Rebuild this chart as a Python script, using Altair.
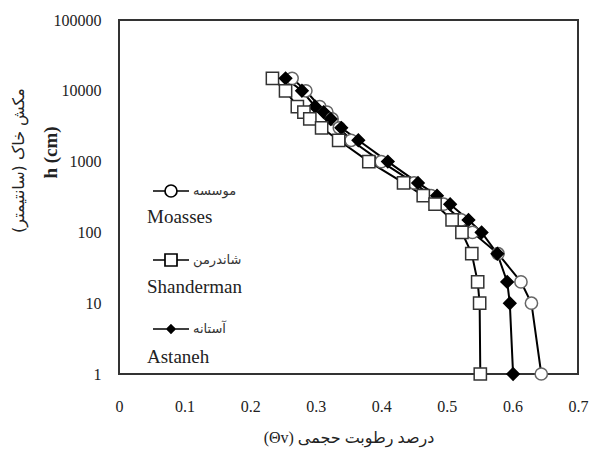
import altair as alt
import pandas as pd

# suction levels h (cm)
h_levels = [15000, 10000, 6000, 5000, 4000, 3000, 2000, 1000, 500, 330, 250, 150, 100, 50, 20, 10, 1]
# volumetric water content per site
moasses = [0.264, 0.285, 0.306, 0.317, 0.325, 0.336, 0.354, 0.400, 0.450, 0.476, 0.495, 0.522, 0.539, 0.578, 0.613, 0.629, 0.644]
shanderman = [0.234, 0.254, 0.272, 0.282, 0.291, 0.309, 0.335, 0.381, 0.434, 0.464, 0.482, 0.508, 0.523, 0.538, 0.547, 0.550, 0.551]
astaneh = [0.254, 0.279, 0.299, 0.312, 0.323, 0.339, 0.365, 0.410, 0.456, 0.485, 0.505, 0.533, 0.553, 0.577, 0.592, 0.596, 0.601]

series_en = ["Moasses", "Shanderman", "Astaneh"]
series_fa = ["موسسه", "شاندرمن", "آستانه"]
x_ticks = [0, 0.1, 0.2, 0.3, 0.4, 0.5, 0.6, 0.7]
y_ticks = [1, 10, 100, 1000, 10000, 100000]

rows = []
for en, fa, vals in zip(series_en, series_fa, [moasses, shanderman, astaneh]):
    for i, (h, t) in enumerate(zip(h_levels, vals)):
        rows.append({"series": en, "fa": fa, "theta": t, "h": h, "idx": i})
df = pd.DataFrame(rows)

SERIF = "Liberation Serif, DejaVu Sans"
FA = "DejaVu Sans"

x_axis = alt.Axis(values=x_ticks, labelExpr="datum.value == 0 ? '0' : format(datum.value, '.1f')",
                  title="(Θv) درصد رطوبت حجمی", titleFont=SERIF, titleFontSize=16, titleFontWeight="normal",
                  titlePadding=15, labelFont=SERIF, labelFontSize=16, labelPadding=24, labelFlush=False,
                  ticks=False, domain=False, grid=False, labelColor="#222", titleColor="#222")
x_enc = alt.X("theta:Q", scale=alt.Scale(domain=[0, 0.7], nice=False, zero=False), axis=x_axis)

y_scale = alt.Scale(type="log", domain=[1, 100000], nice=False)
y_axis_main = alt.Axis(values=y_ticks, format="d", title="h (cm)", titleFont=SERIF, titleFontSize=19,
                       titleFontWeight="bold", titleAngle=-90, titleX=-69, titleY=132, titleBaseline="middle",
                       titleAlign="center", labelFont=SERIF, labelFontSize=16, labelPadding=18, labelFlush=False,
                       ticks=False, domain=False, grid=False, labelColor="#222", titleColor="#222")
y_axis_fa = alt.Axis(orient="left", labels=False, ticks=False, domain=False, grid=False,
                     title="مکش خاک (سانتیمتر)", titleFont=FA, titleFontSize=16, titleFontWeight="normal",
                     titleAngle=-90, titleX=-101, titleY=140, titleBaseline="middle", titleAlign="center",
                     titleColor="#222")

base = alt.Chart(df)

lines = base.mark_line(color="black", strokeWidth=2).encode(
    x=x_enc,
    y=alt.Y("h:Q", scale=y_scale, axis=y_axis_main),
    detail="series:N",
    order="idx:Q",
)

points = base.mark_point(opacity=1, strokeWidth=1.5, size=150).encode(
    x=x_enc,
    y=alt.Y("h:Q", scale=y_scale, axis=y_axis_fa),
    shape=alt.Shape("series:N", scale=alt.Scale(domain=series_en, range=["circle", "square", "diamond"]), legend=None),
    fill=alt.Fill("series:N", scale=alt.Scale(domain=series_en, range=["white", "white", "black"]), legend=None),
    stroke=alt.Stroke("series:N", scale=alt.Scale(domain=series_en, range=["#666666", "#333333", "black"]), legend=None),
    order="idx:Q",
)

# legend glyphs: line with marker, path spans -2..2 horizontally
r = 0.667
circle_path = f"M-2,0L-{r},0M{r},0L2,0M{r},0A{r},{r},0,1,1,-{r},0A{r},{r},0,1,1,{r},0Z"
square_path = f"M-2,0L-{r},0M{r},0L2,0M-{r},-{r}L{r},-{r}L{r},{r}L-{r},{r}Z"
d = 0.44
diamond_path = f"M-2,0L2,0M0,-{d}L{d},0L0,{d}L-{d},0Z"

legend_fa = alt.Legend(orient="none", legendX=42, legendY=161, title=None, padding=0,
                       symbolSize=324, symbolStrokeWidth=1.7, labelFont=FA, labelFontSize=13,
                       labelOffset=12, rowPadding=49, labelColor="#333")

leg1 = base.transform_filter("datum.h < 0").mark_point(opacity=1, filled=False).encode(
    x=x_enc,
    y=alt.Y("h:Q", scale=y_scale, axis=None),
    shape=alt.Shape("fa:N", scale=alt.Scale(domain=series_fa, range=[circle_path, square_path, diamond_path]), legend=legend_fa),
    fill=alt.Fill("fa:N", scale=alt.Scale(domain=series_fa, range=["white", "white", "black"]), legend=legend_fa),
    stroke=alt.Stroke("fa:N", scale=alt.Scale(domain=series_fa, range=["black", "black", "black"]), legend=legend_fa),
)

legend_en = alt.Legend(orient="none", legendX=9, legendY=187, title=None, padding=0,
                       symbolSize=0, symbolStrokeWidth=0, symbolStrokeColor="transparent",
                       labelFont=SERIF, labelFontSize=19, labelOffset=0, rowPadding=50, labelColor="#222")

leg2 = base.transform_filter("datum.h < 0").mark_line().encode(
    x=x_enc,
    y=alt.Y("h:Q", scale=y_scale, axis=None),
    strokeDash=alt.StrokeDash("series:N", scale=alt.Scale(domain=series_en), legend=legend_en),
)

chart = alt.layer(lines, points, leg1, leg2).resolve_scale(
    shape="independent", fill="independent", stroke="independent", strokeDash="independent"
).resolve_axis(y="independent").properties(
    width=459, height=354,
    autosize=alt.AutoSizeParams(type="none"),
    padding={"left": 111, "top": 12, "right": 11, "bottom": 75},
    background="white",
).configure_view(stroke="#333333", strokeWidth=2)

chart.save("out.html", embed_options={"renderer": "svg", "actions": False})
